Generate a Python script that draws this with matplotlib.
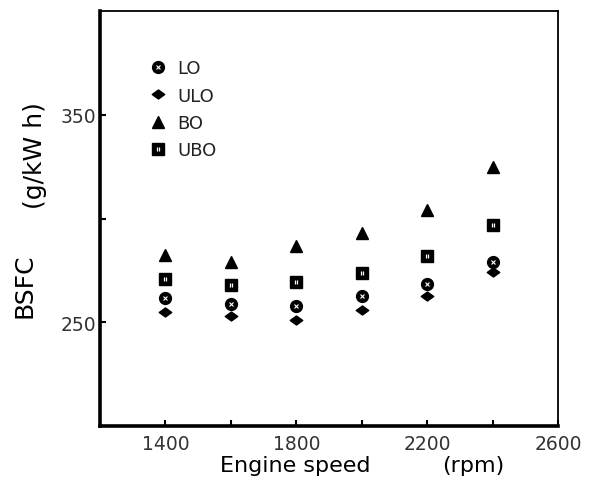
import matplotlib
matplotlib.use("Agg")
import matplotlib.pyplot as plt
from matplotlib.path import Path
from matplotlib.ticker import FixedLocator

speed = [1400, 1600, 1800, 2000, 2200, 2400]
lo  = [261.7, 258.8, 257.7, 262.8, 268.5, 278.9]
ulo = [254.8, 253.2, 251.3, 255.9, 262.8, 274.1]
bo  = [282.4, 278.9, 286.9, 293.0, 304.2, 324.7]
ubo = [270.8, 268.1, 269.3, 273.6, 282.1, 296.9]

diamond = Path([(-1, 0), (0, 0.72), (1, 0), (0, -0.72), (-1, 0)],
               [Path.MOVETO, Path.LINETO, Path.LINETO, Path.LINETO, Path.CLOSEPOLY])
bars = Path([(-0.5, -1), (-0.5, 1), (0.5, -1), (0.5, 1)],
            [Path.MOVETO, Path.LINETO, Path.MOVETO, Path.LINETO])

fig = plt.figure(figsize=(5.9, 4.85), dpi=100)
ax = fig.add_axes([100 / 590, 58 / 485, 458 / 590, 415 / 485])

h_lo = ax.plot(speed, lo, ls="none", marker="o", ms=8.5, mfc="black", mec="black")[0]
h_lo2 = ax.plot(speed, lo, ls="none", marker="x", ms=2.8, mec="white", mew=0.8)[0]
h_ulo = ax.plot(speed, ulo, ls="none", marker=diamond, ms=9, mfc="black", mec="black")[0]
h_bo = ax.plot(speed, bo, ls="none", marker="^", ms=8.5, mfc="black", mec="black")[0]
h_ubo = ax.plot(speed, ubo, ls="none", marker="s", ms=8, mfc="black", mec="black")[0]
h_ubo2 = ax.plot(speed, ubo, ls="none", marker=bars, ms=2.6, mec="white", mew=0.9)[0]

ax.legend([(h_lo, h_lo2), h_ulo, h_bo, (h_ubo, h_ubo2)], ["LO", "ULO", "BO", "UBO"],
          loc="upper left", bbox_to_anchor=(0.075, 0.923), frameon=False,
          prop={"family": "DejaVu Sans", "size": 13}, handlelength=0.8,
          handletextpad=0.7, labelspacing=0.52, labelcolor="#222222")

ax.set_xlim(1200, 2600)
ax.set_ylim(200, 400)
ax.xaxis.set_major_locator(FixedLocator([1400, 1800, 2200, 2600]))
ax.xaxis.set_minor_locator(FixedLocator([1600, 2000, 2400]))
ax.yaxis.set_major_locator(FixedLocator([250, 350]))
ax.yaxis.set_minor_locator(FixedLocator([300]))
ax.tick_params(which="both", direction="in", length=4, width=1.5,
               top=False, right=False, labelsize=13.5, labelcolor="#333333")
ax.tick_params(axis="x", pad=6)
ax.tick_params(axis="y", pad=3)

for side in ["left", "bottom"]:
    ax.spines[side].set_linewidth(2.6)
for side in ["top", "right"]:
    ax.spines[side].set_linewidth(1.3)

fig.text(220 / 590, 13 / 485, "Engine speed", fontsize=16, ha="left", va="baseline")
fig.text(442 / 590, 13 / 485, "(rpm)", fontsize=16, ha="left", va="baseline")
fig.text(24 / 590, 1 - 286 / 485, "BSFC", fontsize=18, rotation=90, ha="center", va="center")
fig.text(35 / 590, 1 - 156 / 485, "(g/kW h)", fontsize=18, rotation=90, ha="center", va="center")

fig.savefig("out.png", dpi=100)
